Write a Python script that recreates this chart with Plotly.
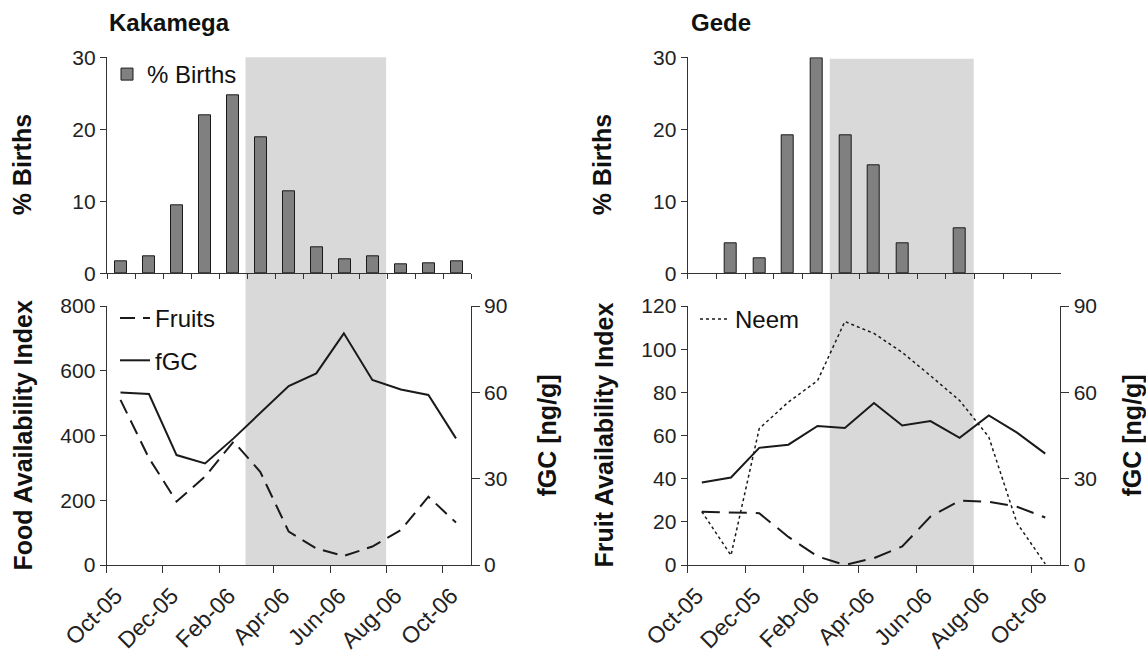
import plotly.graph_objects as go

W, H = 1146, 657

# ---------------- data ----------------
MONTHS = ["Oct-05", "Nov-05", "Dec-05", "Jan-06", "Feb-06", "Mar-06", "Apr-06",
          "May-06", "Jun-06", "Jul-06", "Aug-06", "Sep-06", "Oct-06"]
DATES = ["2005-10-16", "2005-11-16", "2005-12-16", "2006-01-16", "2006-02-16",
         "2006-03-17", "2006-04-17", "2006-05-17", "2006-06-16", "2006-07-17",
         "2006-08-17", "2006-09-16", "2006-10-16"]
TICK_DATES = ["2005-10-01", "2005-12-01", "2006-02-01", "2006-04-01",
              "2006-06-01", "2006-08-01", "2006-10-01"]
TICK_LABELS = ["Oct-05", "Dec-05", "Feb-06", "Apr-06", "Jun-06", "Aug-06", "Oct-06"]
SEASON = ["2006-03-01", "2006-08-01"]

kak_births = [1.7, 2.3, 9.4, 22.0, 24.7, 18.9, 11.4, 3.6, 2.0, 2.3, 1.3, 1.4, 1.7]
kak_fruits = [510, 330, 196, 273, 381, 288, 103, 51, 28, 57, 108, 211, 131]
kak_fgc = [59.9, 59.4, 38.2, 35.3, 44.0, 52.9, 62.2, 66.6, 80.5, 64.3, 61.0, 59.1, 44.0]

gede_births = [0, 4.2, 2.1, 19.2, 29.9, 19.2, 15.0, 4.2, 0, 6.3, 0, 0, 0]
gede_fruits = [24.7, 24.4, 24.0, 13.0, 4.0, 0.0, 3.2, 8.6, 22.4, 29.8, 29.3, 27.0, 22.0]
gede_neem = [24.7, 4.5, 63.2, 75.5, 85.4, 112.8, 107.3, 98.5, 87.7, 76.2, 59.3, 19.4, 0.5]
gede_fgc = [28.7, 30.4, 40.7, 41.8, 48.3, 47.6, 56.3, 48.5, 50.0, 44.2, 52.0, 46.0, 38.7]

# ---------------- helpers ----------------
def fx(px):
    return px / W

def fy(py):
    return 1 - py / H

FONT = "Liberation Sans, Arial, sans-serif"
INK = "#1a1a1a"
AX = "#333333"

fig = go.Figure()

# Kakamega births
fig.add_trace(go.Bar(x=MONTHS, y=kak_births, name="% Births", width=0.42,
                     marker=dict(color="#808080", line=dict(color=INK, width=1)),
                     xaxis="x", yaxis="y", legend="legend"))
# Kakamega lines
fig.add_trace(go.Scatter(x=DATES, y=kak_fruits, name="Fruits", mode="lines",
                         line=dict(color=INK, width=2, dash="15px,8px"),
                         xaxis="x2", yaxis="y2", legend="legend2", legendgroup="a"))
fig.add_trace(go.Scatter(x=DATES, y=kak_fgc, name="fGC", mode="lines",
                         line=dict(color=INK, width=2),
                         xaxis="x2", yaxis="y3", legend="legend2", legendgroup="b"))
# Gede births (months with no births are left empty)
fig.add_trace(go.Bar(x=MONTHS, y=[v if v > 0 else None for v in gede_births],
                     name="% Births", width=0.42,
                     marker=dict(color="#808080", line=dict(color=INK, width=1)),
                     xaxis="x3", yaxis="y4", showlegend=False))
# Gede lines
fig.add_trace(go.Scatter(x=DATES, y=gede_fruits, name="Fruits", mode="lines",
                         line=dict(color=INK, width=2, dash="18px,9px"),
                         xaxis="x4", yaxis="y5", showlegend=False))
fig.add_trace(go.Scatter(x=DATES, y=gede_neem, name="Neem", mode="lines",
                         line=dict(color=INK, width=1.5, dash="dot"),
                         xaxis="x4", yaxis="y5", legend="legend3"))
fig.add_trace(go.Scatter(x=DATES, y=gede_fgc, name="fGC", mode="lines",
                         line=dict(color=INK, width=2),
                         xaxis="x4", yaxis="y6", showlegend=False))

tickfont = dict(family=FONT, size=21, color="#222222")
common = dict(showgrid=False, zeroline=False, showline=True, linecolor=AX, linewidth=1.3,
              ticks="outside", tickcolor=AX, tickwidth=1.3, ticklen=6, tickfont=tickfont,
              automargin=False)

top_dom = [fy(273.3), fy(57.3)]
bot_dom = [fy(565.0), fy(306.0)]

cat_axis = dict(common, type="category", categoryorder="array", categoryarray=MONTHS,
                range=[-0.5, 12.5], tickson="boundaries", showticklabels=False, ticklen=5)
date_axis = dict(common, type="date", range=["2005-10-01", "2006-11-01"],
                 tickmode="array", tickvals=TICK_DATES, ticktext=TICK_LABELS,
                 tickangle=-45, ticklen=7, ticklabelshift=9,
                 tickfont=dict(family=FONT, size=23, color="#222222"))

legend_font = dict(family=FONT, size=24, color="#111")

fig.update_layout(
    width=W, height=H,
    margin=dict(l=0, r=0, t=0, b=0, autoexpand=False),
    paper_bgcolor="white", plot_bgcolor="rgba(0,0,0,0)",
    font=dict(family=FONT, color=INK),
    bargap=0,
    xaxis=dict(cat_axis, domain=[fx(107), fx(471)], anchor="y"),
    yaxis=dict(common, domain=top_dom, anchor="x", range=[0, 30], tickvals=[0, 10, 20, 30]),
    xaxis2=dict(date_axis, domain=[fx(106.7), fx(470.7)], anchor="y2"),
    yaxis2=dict(common, domain=bot_dom, anchor="x2", range=[0, 800],
                tickvals=[0, 200, 400, 600, 800]),
    yaxis3=dict(common, anchor="x2", overlaying="y2", side="right", range=[0, 90],
                tickvals=[0, 30, 60, 90], ticklen=8),
    xaxis3=dict(cat_axis, domain=[fx(687.7), fx(1060.5)], anchor="y4"),
    yaxis4=dict(common, domain=top_dom, anchor="x3", range=[0, 30], tickvals=[0, 10, 20, 30]),
    xaxis4=dict(date_axis, domain=[fx(687.7), fx(1060.3)], anchor="y5"),
    yaxis5=dict(common, domain=bot_dom, anchor="x4", range=[0, 120],
                tickvals=[0, 20, 40, 60, 80, 100, 120]),
    yaxis6=dict(common, anchor="x4", overlaying="y5", side="right", range=[0, 90],
                tickvals=[0, 30, 60, 90], ticklen=8),
    legend=dict(x=fx(107), y=fy(52), xanchor="left", yanchor="top",
                bgcolor="rgba(0,0,0,0)", font=legend_font),
    legend2=dict(x=fx(115), y=fy(296), xanchor="left", yanchor="top",
                 bgcolor="rgba(0,0,0,0)", traceorder="grouped", tracegroupgap=8,
                 font=legend_font),
    legend3=dict(x=fx(695), y=fy(297), xanchor="left", yanchor="top",
                 bgcolor="rgba(0,0,0,0)", font=legend_font),
)

# shaded season (spans births and food panels)
fig.add_shape(type="rect", xref="x2", yref="paper", x0=SEASON[0], x1=SEASON[1],
              y0=fy(565.0), y1=fy(57.3), fillcolor="#d9d9d9", line=dict(width=0),
              layer="below")
fig.add_shape(type="rect", xref="x4", yref="paper", x0=SEASON[0], x1=SEASON[1],
              y0=fy(565.0), y1=fy(58.7), fillcolor="#d9d9d9", line=dict(width=0),
              layer="below")

title_font = dict(family=FONT, size=24, color="#111", weight="bold")
axis_title_font = dict(family=FONT, size=25, color="#111", weight="bold")

annos = [
    dict(text="Kakamega", x=fx(107), y=fy(23), xanchor="left", yanchor="middle", font=title_font),
    dict(text="Gede", x=fx(689), y=fy(23), xanchor="left", yanchor="middle", font=title_font),
    dict(text="% Births", x=fx(22), y=fy(165.3), textangle=-90, font=axis_title_font),
    dict(text="% Births", x=fx(602), y=fy(165.3), textangle=-90, font=axis_title_font),
    dict(text="Food Availability Index", x=fx(22), y=fy(435.5), textangle=-90, font=axis_title_font),
    dict(text="Fruit Availability Index", x=fx(603), y=fy(435.5), textangle=-90, font=axis_title_font),
    dict(text="fGC [ng/g]", x=fx(546), y=fy(435.5), textangle=-90, font=axis_title_font),
    dict(text="fGC [ng/g]", x=fx(1131), y=fy(435.5), textangle=-90, font=axis_title_font),
]
for a in annos:
    a.setdefault("xanchor", "center")
    a.setdefault("yanchor", "middle")
    fig.add_annotation(xref="paper", yref="paper", showarrow=False, **a)

# remove the browser's default page margin so the figure sits at the window origin
fig.write_html("out.html", config={"displayModeBar": False},
               post_script="document.body.style.margin='0';document.body.style.padding='0';")
